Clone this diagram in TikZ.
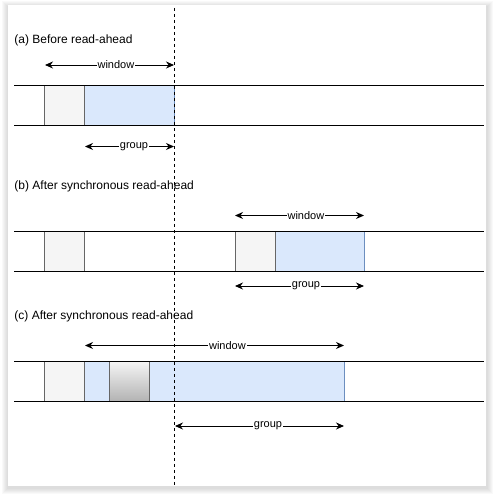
\documentclass[tikz,border=0pt]{standalone}
\usepackage{fontspec}
\setmainfont{Liberation Sans}
\usetikzlibrary{arrows.meta}
\definecolor{pagegrey}{HTML}{F5F5F5}
\definecolor{pageline}{HTML}{666666}
\definecolor{grpfill}{HTML}{DAE8FC}
\definecolor{grpline}{HTML}{6C8EBF}
\definecolor{darkpage}{HTML}{B3B3B3}
\tikzset{
  page/.style={fill=pagegrey,draw=pageline},
  grp/.style={fill=grpfill,draw=grpline},
  span/.style={{Stealth[length=8pt,width=7pt]}-{Stealth[length=8pt,width=7pt]}},
  spanlabel/.style={pos=0.55,fill=white,inner sep=1pt,font=\fontsize{11}{13}\selectfont},
  title/.style={anchor=west,inner sep=0pt,font=\fontsize{12}{14}\selectfont}
}
\begin{document}
\begin{tikzpicture}[x=1pt,y=-1pt,line width=0.9pt]
\useasboundingbox (0,0) rectangle (496,494);
% panel and its shadow
\foreach \i in {1,...,6}
  \fill[black,opacity=0.022] (8-\i,5-\i+2) rectangle (486+\i+1,486+\i+2);
\fill[white] (8,5) rectangle (486,486);

% (a) before read-ahead
\node[title] (ta) at (14,40) {(a) Before read-ahead};
\draw[grp] (84.5,85.5) rectangle (174,125);
\draw[page] (44.5,85.5) rectangle (84.5,125);
\draw (14,85.5) -- (484,85.5);
\draw (14,125) -- (484,125);
\coordinate (wa1) at (45,65);
\coordinate (wa2) at (174,65);
\draw[span] (wa1) -- node[spanlabel] {window} (wa2);
\coordinate (ga1) at (85,146.5);
\coordinate (ga2) at (174,146.5);
\draw[span] (ga1) -- node[spanlabel] {group} (ga2);

% (b) after synchronous read-ahead
\node[title] (tb) at (14,186) {(b) After synchronous read-ahead};
\draw[page] (44.5,231.5) rectangle (84.5,271);
\draw[grp] (275,231.5) rectangle (364,271);
\draw[page] (235,231.5) rectangle (275,271);
\draw (14,231.5) -- (484,231.5);
\draw (14,271) -- (484,271);
\coordinate (wb1) at (235,215.5);
\coordinate (wb2) at (364,215.5);
\draw[span] (wb1) -- node[spanlabel] {window} (wb2);
\coordinate (gb1) at (235,286);
\coordinate (gb2) at (364,286);
\draw[span] (gb1) -- node[spanlabel] {group} (gb2);

% (c) after synchronous read-ahead
\node[title] (tc) at (14,316) {(c) After synchronous read-ahead};
\draw[grp] (84.5,361.5) rectangle (344,401);
\draw[page] (44.5,361.5) rectangle (84.5,401);
\draw[draw=pageline,top color=pagegrey,bottom color=darkpage] (109.5,361.5) rectangle (149.5,401);
\draw (14,361.5) -- (484,361.5);
\draw (14,401) -- (484,401);
\coordinate (wc1) at (85,345.5);
\coordinate (wc2) at (344,345.5);
\draw[span] (wc1) -- node[spanlabel] {window} (wc2);
\coordinate (gc1) at (175,426);
\coordinate (gc2) at (344,426);
\draw[span] (gc1) -- node[spanlabel] {group} (gc2);

% read position
\coordinate (rtop) at (174,8);
\coordinate (rbot) at (174,486);
\draw[dash pattern=on 3pt off 3pt] (rtop) -- (rbot);
\end{tikzpicture}
\end{document}
